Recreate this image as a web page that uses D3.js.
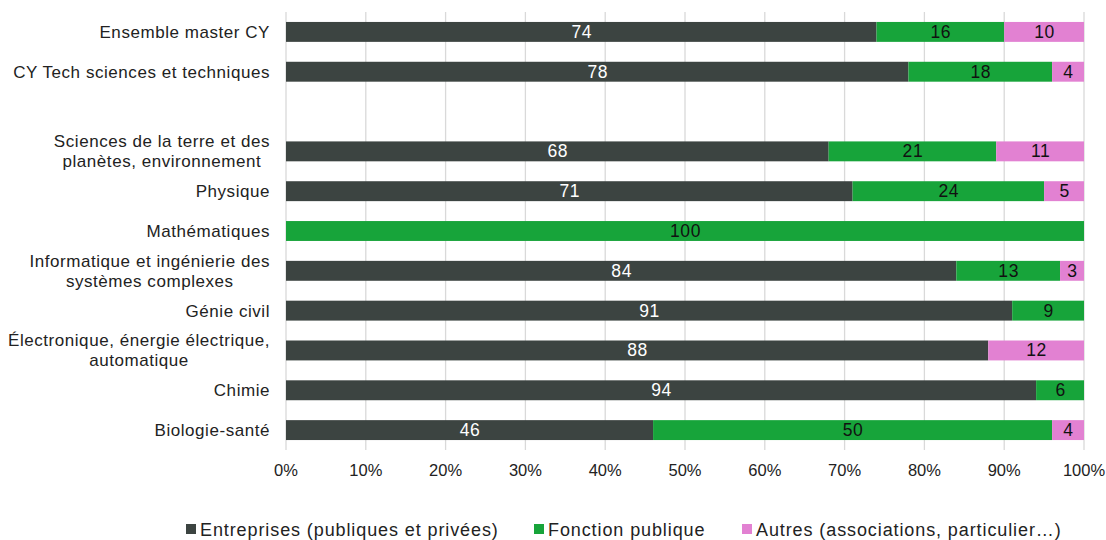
<!DOCTYPE html>
<html><head><meta charset="utf-8">
<script src="https://cdn.jsdelivr.net/npm/d3@7"></script>
<style>
body{margin:0;background:#fff;}
text{font-family:"Liberation Sans",Arial,sans-serif;}
</style></head>
<body><svg id="c" width="1106" height="540"></svg>
<script>
const categories = [
  ["Ensemble master CY"],
  ["CY Tech sciences et techniques"],
  [""],
  ["Sciences de la terre et des", "planètes, environnement"],
  ["Physique"],
  ["Mathématiques"],
  ["Informatique et ingénierie des", "systèmes complexes"],
  ["Génie civil"],
  ["Électronique, énergie électrique,", "automatique"],
  ["Chimie"],
  ["Biologie-santé"]
];
const entreprises = [74, 78, null, 68, 71, 0, 84, 91, 88, 94, 46];
const fonction    = [16, 18, null, 21, 24, 100, 13, 9, 0, 6, 50];
const autres      = [10, 4, null, 11, 5, 0, 3, 0, 12, 0, 4];
const seriesNames = ["Entreprises (publiques et privées)", "Fonction publique", "Autres (associations, particulier…)"];
const seriesColors = ["#3c4441", "#17a43a", "#e281d2"];
const labelColors = ["#ffffff", "#111111", "#111111"];
const xTicks = [0, 10, 20, 30, 40, 50, 60, 70, 80, 90, 100];

(function(){
const svg = d3.select("#c");
const mL = 286, mR = 1084, mT = 12, mB = 450;
const x = d3.scaleLinear().domain([0, 100]).range([mL, mR]);
const y = d3.scaleBand().domain(d3.range(categories.length)).range([mT, mB]).paddingInner(0.5).paddingOuter(0.25);

svg.append("g").selectAll("line").data(xTicks).join("line")
  .attr("x1", d => x(d)).attr("x2", d => x(d))
  .attr("y1", mT).attr("y2", mB)
  .attr("stroke", "#d9d9d9").attr("stroke-width", 1.3);

svg.append("g").selectAll("text").data(xTicks).join("text")
  .attr("x", d => x(d)).attr("y", 475.5)
  .attr("text-anchor", "middle").attr("font-size", 16.5).attr("fill", "#222")
  .text(d => d + "%");

const cat = svg.append("g");
categories.forEach((lines, i) => {
  const cy = y(i) + y.bandwidth() / 2;
  const n = lines.length;
  let firstBB = null;
  lines.forEach((ln, j) => {
    const t = cat.append("text")
      .attr("x", 270)
      .attr("y", cy + (j - (n - 1) / 2) * 20 + 6)
      .attr("text-anchor", "end")
      .attr("font-size", 17).attr("letter-spacing", 0.55).attr("fill", "#222")
      .text(ln);
    if (j === 0) firstBB = t.node().getBBox();
    else t.attr("text-anchor", "middle").attr("x", firstBB.x + firstBB.width / 2);
  });
});

const series = [entreprises, fonction, autres];
const barG = svg.append("g");
categories.forEach((c, i) => {
  if (entreprises[i] === null) return;
  let acc = 0;
  series.forEach((s, k) => {
    const v = s[i];
    if (v > 0) {
      barG.append("rect")
        .attr("x", x(acc)).attr("y", y(i))
        .attr("width", x(acc + v) - x(acc)).attr("height", y.bandwidth())
        .attr("fill", seriesColors[k]);
      barG.append("text")
        .attr("x", x(acc + v / 2) + 0.5).attr("y", y(i) + y.bandwidth() / 2 + 6)
        .attr("text-anchor", "middle").attr("font-size", 17.5).attr("letter-spacing", 0.6)
        .attr("fill", labelColors[k]).text(v);
    }
    acc += v;
  });
});

const legX = [186, 534, 742];
const lg = svg.append("g");
seriesNames.forEach((nm, k) => {
  lg.append("rect").attr("x", legX[k]).attr("y", 524).attr("width", 10).attr("height", 10).attr("fill", seriesColors[k]);
  lg.append("text").attr("x", legX[k] + 14).attr("y", 535.5).attr("font-size", 18).attr("letter-spacing", 0.9).attr("fill", "#222").text(nm);
});
})();
</script></body></html>
